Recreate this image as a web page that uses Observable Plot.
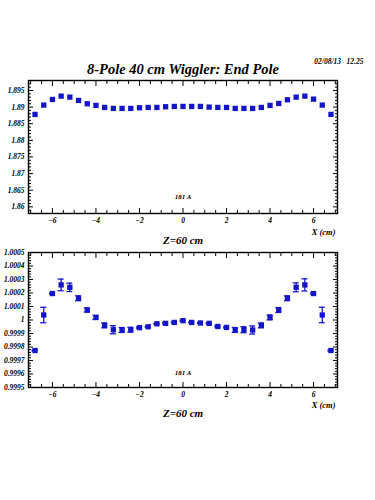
<!DOCTYPE html>
<html>
<head>
<meta charset="utf-8">
<script src="https://cdn.jsdelivr.net/npm/d3@7"></script>
<script src="https://cdn.jsdelivr.net/npm/@observablehq/plot@0.6"></script>
<style>
  html, body { margin: 0; padding: 0; background: white; }
  svg { display: block; }
</style>
</head>
<body>
<div id="chart"></div>
<script>
// ---- data ----
const xPos = [-6.8, -6.4, -6.0, -5.6, -5.2, -4.8, -4.4, -4.0, -3.6, -3.2, -2.8, -2.4, -2.0, -1.6, -1.2, -0.8, -0.4, 0,
               0.4, 0.8, 1.2, 1.6, 2.0, 2.4, 2.8, 3.2, 3.6, 4.0, 4.4, 4.8, 5.2, 5.6, 6.0, 6.4, 6.8];
const fieldTop = [1.8878, 1.8906, 1.8923, 1.8933, 1.8930, 1.8920, 1.8910, 1.8905, 1.8899, 1.8896, 1.8896, 1.8896,
                  1.8898, 1.8899, 1.8899, 1.8901, 1.8902, 1.8902, 1.8902, 1.8902, 1.8900, 1.8899, 1.8899, 1.8896,
                  1.8896, 1.8896, 1.8899, 1.8905, 1.8911, 1.8922, 1.8930, 1.8933, 1.8924, 1.8906, 1.8878];
const ratioBottom = [0.999774, 1.000037, 1.000196, 1.000260, 1.000242, 1.000161, 1.000074, 1.000019, 0.999960,
                     0.999928, 0.999926, 0.999928, 0.999943, 0.999950, 0.999972, 0.999975, 0.999982, 0.999995,
                     0.999982, 0.999978, 0.999975, 0.999952, 0.999945, 0.999926, 0.999928, 0.999926, 0.999960,
                     1.000019, 1.000074, 1.000161, 1.000242, 1.000260, 1.000196, 1.000037, 0.999774];
const errBottom = [0.000004, 0.000057, 0.000004, 0.000043, 0.000031, 0.000018, 0.000015, 0.000015, 0.000018,
                   0.000030, 0.000018, 0.000018, 0.000004, 0.000004, 0.000004, 0.000004, 0.000004, 0.000004,
                   0.000004, 0.000004, 0.000004, 0.000004, 0.000004, 0.000018, 0.000022, 0.000030, 0.000018,
                   0.000018, 0.000018, 0.000018, 0.000033, 0.000045, 0.000004, 0.000057, 0.000004];
const xMajorTicks = [-6, -4, -2, 0, 2, 4, 6];
const yTicksTop = [1.86, 1.865, 1.87, 1.875, 1.88, 1.885, 1.89, 1.895];
const yTicksBottom = [0.9995, 0.9996, 0.9997, 0.9998, 0.9999, 1, 1.0001, 1.0002, 1.0003, 1.0004, 1.0005];
const titleText = "8-Pole 40 cm Wiggler: End Pole";
const dateText = "02/08/13   12.25";
const currentText = "181 A";
const zText = "Z=60 cm";
const xLabel = "X (cm)";

const topData = xPos.map((x, i) => ({x, y: fieldTop[i]}));
const botData = xPos.map((x, i) => ({x, y: ratioBottom[i], lo: ratioBottom[i] - errBottom[i], hi: ratioBottom[i] + errBottom[i]}));

const blue = "#1414c8";
const xDomain = [-7.1, 7.1];
const xMinor = d3.range(-7, 7.01, 0.5).map(v => +v.toFixed(2)).filter(v => !xMajorTicks.includes(v));

function frameTicks(yMajor, yMinor) {
  const common = {tickFormat: () => "", label: null, strokeWidth: 1};
  return [
    Plot.axisX(xMajorTicks, {...common, anchor: "bottom", tickSize: -5}),
    Plot.axisX(xMinor, {...common, anchor: "bottom", tickSize: -3}),
    Plot.axisX(xMajorTicks, {...common, anchor: "top", tickSize: -5}),
    Plot.axisX(xMinor, {...common, anchor: "top", tickSize: -3}),
    Plot.axisY(yMajor, {...common, anchor: "left", tickSize: -5}),
    Plot.axisY(yMinor, {...common, anchor: "left", tickSize: -3}),
    Plot.axisY(yMajor, {...common, anchor: "right", tickSize: -5}),
    Plot.axisY(yMinor, {...common, anchor: "right", tickSize: -3}),
    Plot.axisX(xMajorTicks, {anchor: "bottom", tickSize: 0, tickPadding: 4, label: null, fontSize: 7.5}),
    Plot.axisY(yMajor, {anchor: "left", tickSize: 0, tickPadding: 4, label: null, fontSize: 7.5, tickFormat: d => String(d)}),
    Plot.frame({stroke: "black", strokeWidth: 1.4})
  ];
}

const style = {fontFamily: "'Liberation Serif', 'DejaVu Serif', serif", fontStyle: "italic", fontWeight: "bold", fontSize: "8px", background: "white", color: "black"};

const yTopDomain = [1.858, 1.898];
const yMinorTop = d3.range(0, 41).map(i => +(1.858 + i * 0.001).toFixed(4)).filter(v => !yTicksTop.some(t => Math.abs(t - v) < 1e-7));

const plot1 = Plot.plot({
  width: 375, height: 245,
  marginLeft: 28, marginRight: 38, marginTop: 80, marginBottom: 32,
  x: {domain: xDomain},
  y: {domain: yTopDomain},
  style,
  marks: [
    ...frameTicks(yTicksTop, yMinorTop),
    Plot.dot(topData, {x: "x", y: "y", symbol: "square", r: 3, fill: blue, stroke: "none"}),
    Plot.text([titleText], {frameAnchor: "top", lineAnchor: "bottom", dy: -7, fontSize: 14.5, fill: "black"}),
    Plot.text([dateText], {frameAnchor: "top-right", textAnchor: "end", lineAnchor: "bottom", dx: 26, dy: -17, fontSize: 7.5}),
    Plot.text([currentText], {frameAnchor: "bottom", lineAnchor: "bottom", dy: -15, fontSize: 7}),
    Plot.text([xLabel], {frameAnchor: "bottom-right", textAnchor: "end", lineAnchor: "bottom", dx: -2, dy: 21, fontSize: 8.5}),
    Plot.text([zText], {frameAnchor: "bottom", lineAnchor: "bottom", dy: 30, fontSize: 11})
  ]
});

const yBotDomain = [0.9995, 1.0005];
const yMinorBot = d3.range(0, 51).map(i => +(0.9995 + i * 0.00002).toFixed(6)).filter(v => !yTicksBottom.some(t => Math.abs(t - v) < 1e-9));

const plot2 = Plot.plot({
  width: 375, height: 255,
  marginLeft: 28, marginRight: 38, marginTop: 7, marginBottom: 113,
  x: {domain: xDomain},
  y: {domain: yBotDomain},
  style,
  marks: [
    ...frameTicks(yTicksBottom, yMinorBot),
    Plot.ruleX(botData, {x: "x", y1: "lo", y2: "hi", stroke: blue, strokeWidth: 1.3}),
    Plot.ruleY(botData, {y: "lo", x1: "x", x2: "x", insetLeft: -3, insetRight: -3, stroke: blue, strokeWidth: 1.3}),
    Plot.ruleY(botData, {y: "hi", x1: "x", x2: "x", insetLeft: -3, insetRight: -3, stroke: blue, strokeWidth: 1.3}),
    Plot.dot(botData, {x: "x", y: "y", symbol: "square", r: 3, fill: blue, stroke: "none"}),
    Plot.text([currentText], {frameAnchor: "bottom", lineAnchor: "bottom", dy: -13, fontSize: 7}),
    Plot.text([xLabel], {frameAnchor: "bottom-right", textAnchor: "end", lineAnchor: "bottom", dx: -2, dy: 20, fontSize: 8.5}),
    Plot.text([zText], {frameAnchor: "bottom", lineAnchor: "bottom", dy: 29, fontSize: 11})
  ]
});

document.getElementById("chart").append(plot1, plot2);
</script>
</body>
</html>
